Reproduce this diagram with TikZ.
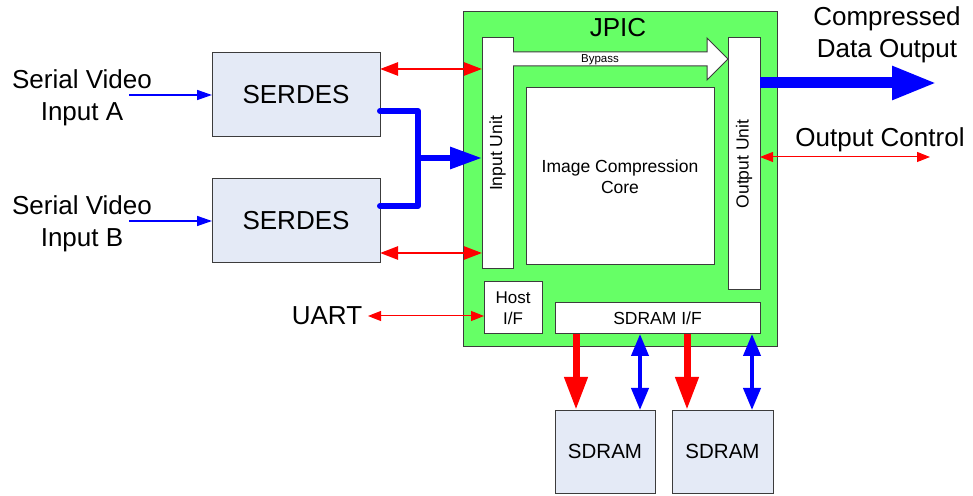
\documentclass[tikz,border=0pt]{standalone}
\usepackage{fontspec}
\setmainfont{Liberation Sans}
\usetikzlibrary{arrows.meta}

\definecolor{chipgreen}{RGB}{102,255,102}
\definecolor{serdesfill}{RGB}{228,234,246}
\definecolor{edgegray}{RGB}{60,60,60}

\newcommand{\txtsize}[2]{\fontsize{#1}{#2}\selectfont}

\begin{document}
\begin{tikzpicture}[x=1pt, y=1pt]
\tikzset{ >=latex, inner sep=0pt, outer sep=0pt,
  blk/.style={draw=edgegray, line width=1pt, fill=white, align=center},
  serbox/.style={blk, fill=serdesfill, minimum width=168pt, minimum height=84pt, font=\txtsize{26}{30}},
  membox/.style={blk, fill=serdesfill, minimum height=83pt, font=\txtsize{20.5}{24}},
  biglbl/.style={align=center, font=\txtsize{26}{31.5}},
  sig/.style={red, line width=1pt, {Triangle[length=13pt,width=10pt]}-{Triangle[length=13pt,width=10pt]}},
  ctl/.style={red, line width=2.5pt, {Triangle[length=18pt,width=13pt]}-{Triangle[length=18pt,width=13pt]}},
  vin/.style={blue, line width=1.5pt, -{Triangle[length=15pt,width=10pt]}},
  bus/.style={blue, line width=6pt, line cap=round, line join=round},
  memwr/.style={red, line width=7pt, -{Triangle[length=33pt,width=22pt]}},
  memrw/.style={blue, line width=4pt, {Triangle[length=22pt,width=17pt]}-{Triangle[length=22pt,width=17pt]}},
}

\useasboundingbox (0,0) rectangle (973,495);

% JPIC chip and its units
\node [blk, fill=chipgreen, minimum width=314pt, minimum height=335pt] (jpic) at (620,315.5) {};
\node (jpiclbl) at (618,467) [font=\txtsize{26}{30}] {JPIC};

\node [blk, rotate=90, minimum width=231pt, minimum height=31pt, font=\txtsize{17.5}{20}] (inunit) at (497.5,341.5) {Input Unit};
\node [blk, rotate=90, minimum width=252pt, minimum height=32pt, font=\txtsize{17.5}{20}] (outunit) at (744,331) {Output Unit};
\node [blk, minimum width=188pt, minimum height=177pt, font=\txtsize{17.5}{21}] (core) at (620,318.5) {Image Compression\\Core};
\node [blk, minimum width=58pt, minimum height=52pt, font=\txtsize{17}{21}] (host) at (513,187) {Host\\I/F};
\node [blk, minimum width=205pt, minimum height=31pt, font=\txtsize{17.5}{21}] (sdramif) at (657.5,176.5) {SDRAM I/F};

% bypass path
\draw [blk] (inunit.south |- 0,443) -- (707,443) -- (707,457) -- (outunit.north |- 0,436)
            -- (707,415) -- (707,429) -- (inunit.south |- 0,429);
\node (bypass) at (600,435) [font=\txtsize{11.5}{13}] {Bypass};

% serdes
\node [serbox] (serA) at (296,400) {SERDES};
\node [serbox] (serB) at (296,274) {SERDES};

\node [biglbl] (vidA) at (82,397) {Serial Video\\Input A};
\node [biglbl] (vidB) at (82,271) {Serial Video\\Input B};
\coordinate (vinA) at (129,400);
\coordinate (vinB) at (129,274);
\draw [vin] (vinA) -- (serA.west);
\draw [vin] (vinB) -- (serB.west);

\draw [ctl] (serA.east |- 0,426) -- (inunit.north |- 0,426);
\draw [ctl] (serB.east |- 0,242) -- (inunit.north |- 0,242);

\coordinate (mrg) at (418,337);
\draw [bus] (serA.east |- 0,384) -| (mrg) |- (serB.east |- 0,289);
\draw [bus, line cap=butt, -{Triangle[length=32pt,width=21pt]}] (mrg) -- (inunit.north |- mrg);

% outputs
\node [biglbl] (cdolbl) at (887,460) {Compressed\\Data Output};
\coordinate (cdo) at (937,412);
\draw [blue, line width=11pt, -{Triangle[length=45pt,width=31pt]}] (outunit.south |- cdo) -- (cdo);

\node [biglbl] (octllbl) at (880,355) {Output Control};
\coordinate (octl) at (930,338);
\draw [sig] (outunit.south |- octl) -- (octl);

\node [biglbl] (uart) at (327,179) {UART};
\coordinate (uartend) at (368,179);
\draw [sig] (uartend) -- (host.west |- uartend);

% memories
\node [membox, minimum width=100pt] (mem1) at (605,43.5) {SDRAM};
\node [membox, minimum width=101pt] (mem2) at (722.5,43.5) {SDRAM};

\draw [memwr] (sdramif.south -| 576,0) -- (mem1.north -| 576,0);
\draw [memrw] (sdramif.south -| 640,0) -- (mem1.north -| 640,0);
\draw [memwr] (sdramif.south -| 687,0) -- (mem2.north -| 687,0);
\draw [memrw] (sdramif.south -| 752,0) -- (mem2.north -| 752,0);

\end{tikzpicture}
\end{document}
